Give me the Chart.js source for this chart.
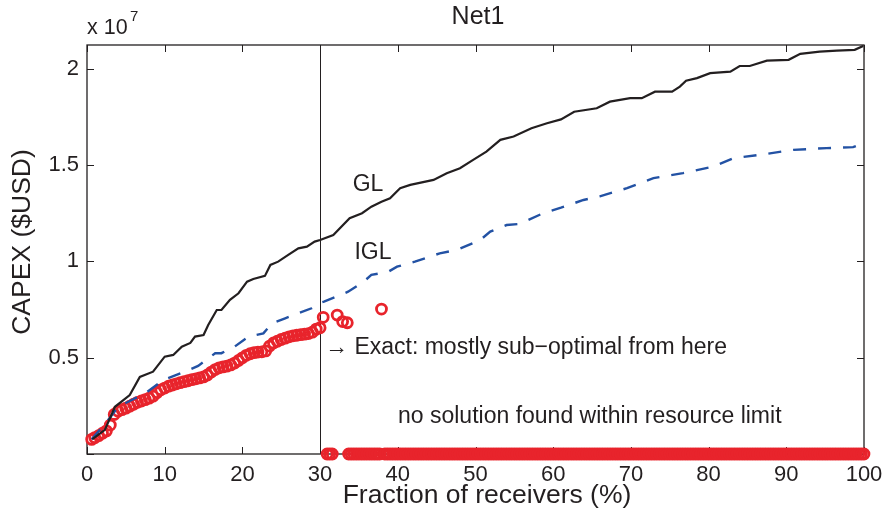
<!DOCTYPE html>
<html>
<head>
<meta charset="utf-8">
<script src="https://cdn.jsdelivr.net/npm/chart.js@4/dist/chart.umd.min.js"></script>
<style>
  html, body { margin: 0; padding: 0; background: #fff; }
  #wrap { width: 885px; height: 518px; position: relative; }
</style>
</head>
<body>
<div id="wrap"><canvas id="capexChart"></canvas></div>
<script>
// --- data (CAPEX in units of 1e7 USD, x = fraction of receivers in %) ---
const xTicks = [0, 10, 20, 30, 40, 50, 60, 70, 80, 90, 100];
const yTicks = [0, 0.5, 1, 1.5, 2];

const glX = [0.7, 2.3, 3.6, 5.5, 6.8, 8.5, 10.0, 11.1, 12.2, 13.3, 13.9, 15.0, 15.6, 16.7, 17.3, 18.4, 19.5, 20.6, 21.4, 22.9,
  23.6, 24.6, 25.9, 27.2, 28.3, 29.3, 30.0, 31.7, 33.8, 35.4, 36.6, 37.9, 39.0, 40.3, 41.6, 44.6, 46.3, 48.0, 49.7, 51.4,
  53.2, 54.9, 57.2, 59.2, 61.0, 62.7, 65.6, 67.3, 69.9, 71.4, 73.1, 75.3, 76.3, 77.1, 78.5, 80.2, 82.8, 84.0, 85.3, 87.5,
  90.3, 91.8, 94.3, 96.5, 98.8, 99.9];
const glCost = [0.077, 0.125, 0.245, 0.306, 0.40, 0.427, 0.505, 0.514, 0.557, 0.576, 0.609, 0.617, 0.669, 0.747, 0.747, 0.80, 0.834, 0.894, 0.908, 0.924,
  0.981, 0.998, 1.033, 1.067, 1.076, 1.102, 1.11, 1.136, 1.223, 1.249, 1.283, 1.309, 1.327, 1.379, 1.396, 1.422, 1.457, 1.483, 1.526, 1.569,
  1.63, 1.647, 1.69, 1.716, 1.736, 1.776, 1.794, 1.828, 1.846, 1.846, 1.88, 1.88, 1.906, 1.937, 1.95, 1.976, 1.984, 2.013, 2.013, 2.041,
  2.045, 2.076, 2.088, 2.093, 2.097, 2.117];

const iglX = [0.6, 3.0, 4.0, 5.75, 7.5, 9.8, 12.6, 14.3, 16.5, 17.3, 19.0, 20.8, 22.7, 23.8, 25.5, 27.2, 28.9, 29.8, 30.5, 32.6,
  33.6, 35.6, 36.6, 38.8, 39.9, 42.2, 45.4, 47.6, 50.6, 51.9, 54.0, 55.7, 58.7, 61.0, 63.9, 66.0, 69.5, 72.9, 76.7, 80.6,
  83.2, 86.6, 90.9, 95.2, 98.6, 99.7];
const iglCost = [0.076, 0.19, 0.245, 0.28, 0.315, 0.384, 0.427, 0.457, 0.523, 0.523, 0.557, 0.609, 0.626, 0.678, 0.704, 0.73, 0.756, 0.782, 0.79, 0.825,
  0.842, 0.894, 0.929, 0.946, 0.972, 0.998, 1.041, 1.059, 1.11, 1.154, 1.188, 1.194, 1.249, 1.278, 1.318, 1.337, 1.379, 1.431, 1.457, 1.491,
  1.535, 1.552, 1.578, 1.587, 1.592, 1.609];

const exactX = [0.6, 1.0, 1.5, 2.0, 2.5, 3.0, 3.5, 4.0, 4.5, 5.0, 5.5, 6.0, 6.5, 7.0, 7.5, 8.0, 8.5, 9.0, 9.5, 10.0,
  10.5, 11.0, 11.5, 12.0, 12.5, 13.0, 13.5, 14.0, 14.5, 15.0, 15.5, 16.0, 16.5, 17.0, 17.5, 18.0, 18.5, 19.0, 19.5, 20.0,
  20.5, 21.0, 21.5, 22.0, 22.5, 23.0, 23.5, 24.0, 24.5, 25.0, 25.5, 26.0, 26.5, 27.0, 27.5, 28.0, 28.5, 29.0, 29.5, 30.0,
  30.4, 32.2, 32.9, 33.5, 37.9];
const exactCost = [0.076, 0.085, 0.095, 0.108, 0.12, 0.15, 0.205, 0.222, 0.23, 0.238, 0.248, 0.258, 0.268, 0.275, 0.282, 0.29, 0.30, 0.318, 0.333, 0.342,
  0.352, 0.358, 0.364, 0.37, 0.375, 0.38, 0.386, 0.39, 0.395, 0.40, 0.41, 0.425, 0.438, 0.447, 0.452, 0.456, 0.462, 0.472, 0.485, 0.499,
  0.512, 0.52, 0.526, 0.529, 0.53, 0.535, 0.56, 0.576, 0.585, 0.594, 0.601, 0.608, 0.613, 0.616, 0.619, 0.622, 0.625, 0.632, 0.648, 0.655,
  0.709, 0.721, 0.687, 0.681, 0.752];

// receivers (on a 1/3 % grid) where no solution was found -> plotted at 0
const noSolutionRanges = [[30.9, 31.6], [33.67, 37.67], [38.33, 100]];
const receiverStep = 1 / 3;

const TXT = '#231f20';
const FONT = '"Liberation Sans", Arial, Helvetica, sans-serif';

function toPoints(xs, ys) {
    return xs.map((x, i) => ({ x: x, y: ys[i] }));
}

const noSolutionPts = [];
noSolutionRanges.forEach(([a, b]) => {
    for (let k = 0; a + k * receiverStep <= b + 1e-6; k++) noSolutionPts.push({ x: a + k * receiverStep, y: 0 });
});

// box, inward ticks, x=30 marker line and annotations
const matlabAxes = {
    id: 'matlabAxes',
    beforeDatasetsDraw(chart) {
        const { ctx, chartArea: a, scales: { x, y } } = chart;
        ctx.save();
        ctx.strokeStyle = TXT;
        ctx.lineWidth = 1.3;
        ctx.strokeRect(a.left, a.top, a.right - a.left, a.bottom - a.top);
        ctx.lineWidth = 1;
        ctx.beginPath();
        xTicks.forEach(v => {
            const px = Math.round(x.getPixelForValue(v)) + 0.5;
            ctx.moveTo(px, a.bottom); ctx.lineTo(px, a.bottom - 7);
            ctx.moveTo(px, a.top); ctx.lineTo(px, a.top + 7);
        });
        yTicks.forEach(v => {
            const py = Math.round(y.getPixelForValue(v)) + 0.5;
            ctx.moveTo(a.left, py); ctx.lineTo(a.left + 7, py);
            ctx.moveTo(a.right, py); ctx.lineTo(a.right - 7, py);
        });
        ctx.stroke();
        // vertical marker at 30 %
        const vx = Math.round(x.getPixelForValue(30)) + 0.5;
        ctx.beginPath();
        ctx.moveTo(vx, a.top); ctx.lineTo(vx, a.bottom);
        ctx.stroke();
        ctx.restore();
    },
    afterDraw(chart) {
        const { ctx, chartArea: a } = chart;
        ctx.save();
        ctx.fillStyle = TXT;
        ctx.textBaseline = 'middle';
        ctx.textAlign = 'center';
        ctx.font = `25px ${FONT}`;
        ctx.fillText('Net1', 478, 17);
        ctx.font = `26.5px ${FONT}`;
        ctx.fillText('Fraction of receivers (%)', 487, 496);

        ctx.save();
        ctx.translate(23, 242);
        ctx.rotate(-Math.PI / 2);
        ctx.fillText('CAPEX ($USD)', 0, 0);
        ctx.restore();

        ctx.textAlign = 'left';
        ctx.font = `21.5px ${FONT}`;
        ctx.fillText('x 10', a.left, 28);
        ctx.font = `15px ${FONT}`;
        ctx.fillText('7', a.left + 43, 17);

        ctx.font = `23px ${FONT}`;
        ctx.textAlign = 'center';
        ctx.fillText('GL', 368, 185);
        ctx.fillText('IGL', 373, 253);
        ctx.textAlign = 'left';
        ctx.fillText('\u2192 Exact: mostly sub\u2212optimal from here', 325, 348);
        ctx.fillText('no solution found within resource limit', 398, 417);
        ctx.restore();
    }
};

const ctx = document.getElementById('capexChart').getContext('2d');
window.capexChart = new Chart(ctx, {
    type: 'scatter',
    data: {
        datasets: [
            {
                label: 'GL',
                data: toPoints(glX, glCost),
                showLine: true,
                borderColor: '#231f20',
                borderWidth: 2.2,
                pointRadius: 0,
                fill: false
            },
            {
                label: 'IGL',
                data: toPoints(iglX, iglCost),
                showLine: true,
                borderColor: '#2352a4',
                borderWidth: 2.4,
                borderDash: [13, 12],
                pointRadius: 0,
                fill: false
            },
            {
                label: 'Exact',
                data: toPoints(exactX, exactCost),
                showLine: false,
                pointRadius: 5,
                pointBorderWidth: 2.8,
                pointBorderColor: '#e8242c',
                pointBackgroundColor: 'rgba(0,0,0,0)',
                clip: false
            },
            {
                label: 'Exact (no solution)',
                data: noSolutionPts,
                showLine: false,
                pointRadius: 5,
                pointBorderWidth: 2.8,
                pointBorderColor: '#e8242c',
                pointBackgroundColor: 'rgba(0,0,0,0)',
                clip: false
            }
        ]
    },
    options: {
        responsive: true,
        maintainAspectRatio: false,
        animation: false,
        layout: { padding: { top: 45, right: 21, left: 0, bottom: 0 } },
        plugins: { legend: { display: false }, tooltip: { enabled: false }, title: { display: false } },
        scales: {
            x: {
                type: 'linear',
                min: 0,
                max: 100,
                afterBuildTicks: s => { s.ticks = xTicks.map(v => ({ value: v })); },
                afterFit: s => { s.height = 64; s.paddingLeft = 0; s.paddingRight = 0; },
                grid: { display: false, drawTicks: false },
                border: { display: false },
                ticks: { color: TXT, padding: 8, maxRotation: 0, font: { size: 22, family: FONT } }
            },
            y: {
                type: 'linear',
                min: 0,
                max: 2.122,
                afterBuildTicks: s => { s.ticks = yTicks.map(v => ({ value: v })); },
                afterFit: s => { s.width = 87; s.paddingTop = 0; s.paddingBottom = 0; },
                grid: { display: false, drawTicks: false },
                border: { display: false },
                ticks: {
                    color: TXT,
                    padding: 8,
                    font: { size: 22, family: FONT },
                    callback: v => (v === 0 ? '' : String(v))
                }
            }
        }
    },
    plugins: [matlabAxes]
});
</script>
</body>
</html>
